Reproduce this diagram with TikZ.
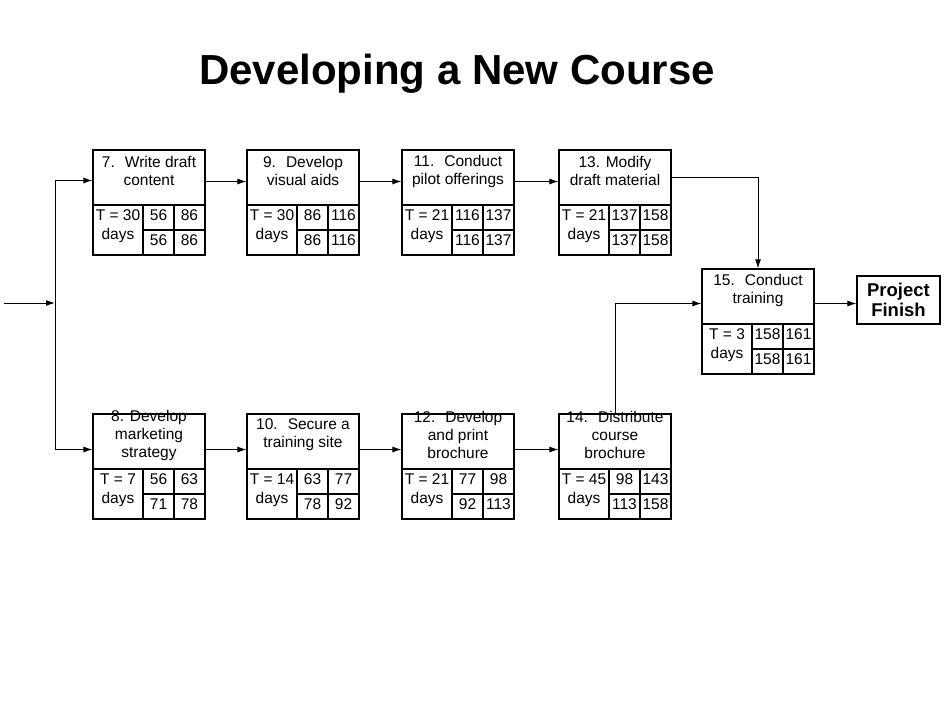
\documentclass[tikz,border=0pt]{standalone}
\usepackage{fontspec}
\setmainfont{Liberation Sans}
\usetikzlibrary{arrows.meta}

\tikzset{
  box/.style={draw, line width=1.1pt, inner sep=0pt},
  titlebox/.style={box, minimum width=112pt, minimum height=55pt},
  durbox/.style={box, minimum width=50pt, minimum height=50pt},
  numbox/.style={box, minimum width=31pt, minimum height=25pt,
    font=\fontsize{15.5}{18}\selectfont, text height=11pt, text depth=6pt},
  boxtext/.style={align=center, inner sep=0pt, font=\fontsize{15.5}{18}\selectfont},
  daystext/.style={boxtext, font=\fontsize{15.5}{19}\selectfont},
  arr/.style={line width=1pt, -{Latex[length=9pt,width=6pt]}}
}

% activity box: name, left, top, title, duration, ES, EF, LS, LF
\newcommand{\activity}[9]{
  \node[titlebox] (#1) at (#2+56,#3+27.5) {};
  \node[boxtext] (#1-name) at (#2+56,#3+21) {#4};
  \node[durbox] (#1-t) at (#2+25,#3+80) {};
  \node[daystext] (#1-days) at (#2+25,#3+76.5) {T = #5\\days};
  \node[numbox] (#1-es) at (#2+65.5,#3+67.5) {#6};
  \node[numbox] (#1-ef) at (#2+96.5,#3+67.5) {#7};
  \node[numbox] (#1-ls) at (#2+65.5,#3+92.5) {#8};
  \node[numbox] (#1-lf) at (#2+96.5,#3+92.5) {#9};
}

\begin{document}
\begin{tikzpicture}[x=1pt,y=-1pt]
    % page frame
    \useasboundingbox (0,0) rectangle (950,713);
    % title
    \node[font=\bfseries\fontsize{42}{50}\selectfont] (title) at (457,74) {Developing a New Course};
    % upper path
    \activity{a7}{93}{150}{7.~ Write draft\\content}{30}{56}{86}{56}{86}
    \activity{a9}{247}{150}{9.~ Develop\\visual aids}{30}{86}{116}{86}{116}
    \activity{a11}{402}{150}{11.~ Conduct\\pilot offerings}{21}{116}{137}{116}{137}
    \activity{a13}{559}{150}{13. Modify\\draft material}{21}{137}{158}{137}{158}
    % lower path
    \activity{a8}{93}{414}{8. Develop\\marketing\\strategy}{7}{56}{63}{71}{78}
    \activity{a10}{247}{414}{10.~ Secure a\\training site}{14}{63}{77}{78}{92}
    \activity{a12}{402}{414}{12.~ Develop\\and print\\brochure}{21}{77}{98}{92}{113}
    \activity{a14}{559}{414}{14.~ Distribute\\course\\brochure}{45}{98}{143}{113}{158}
    % merge
    \activity{a15}{702}{269}{15.~ Conduct\\training}{3}{158}{161}{158}{161}
    % finish
    \node[box, align=center, font=\bfseries\fontsize{18.5}{20}\selectfont,
      minimum width=83pt, minimum height=48pt] (finish) at (898.5,300) {Project\\Finish};
    % start and fork
    \coordinate (start) at (4,303);
    \coordinate (fork) at (55,303);
    \draw[arr] (start) -- (fork);
    \draw[arr] (fork) |- ([yshift=-3pt]a7.west);
    \draw[arr] (fork) |- ([yshift=-8pt]a8.west);
    % upper arrows
    \draw[arr] ([yshift=-4pt]a7.east) -- ([yshift=-4pt]a9.west);
    \draw[arr] ([yshift=-4pt]a9.east) -- ([yshift=-4pt]a11.west);
    \draw[arr] ([yshift=-4pt]a11.east) -- ([yshift=-4pt]a13.west);
    \draw[arr] (a13.east) -| (a15.north);
    % lower arrows
    \draw[arr] ([yshift=-8pt]a8.east) -- ([yshift=-8pt]a10.west);
    \draw[arr] ([yshift=-8pt]a10.east) -- ([yshift=-8pt]a12.west);
    \draw[arr] ([yshift=-8pt]a12.east) -- ([yshift=-8pt]a14.west);
    \draw[arr] (a14.north) |- ([yshift=-7pt]a15.west);
    % to finish
    \draw[arr] ([yshift=-7pt]a15.east) -- ([yshift=-7pt]a15.east -| finish.west);
\end{tikzpicture}
\end{document}
